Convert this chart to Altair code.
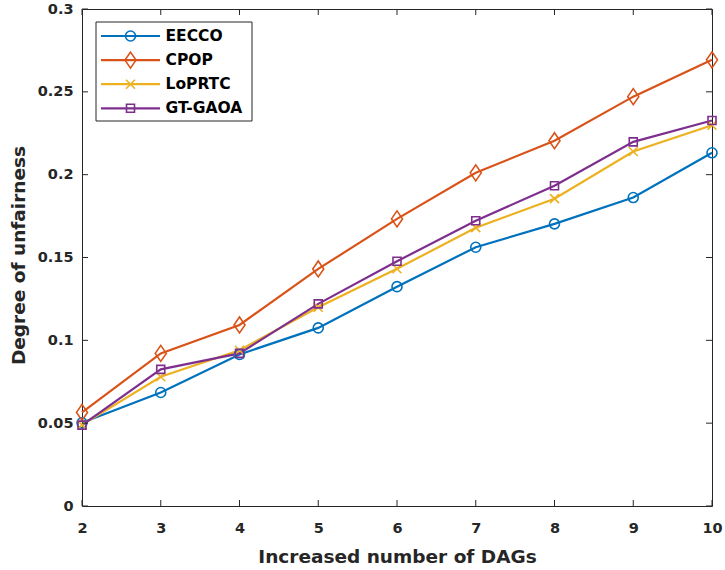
import altair as alt
import pandas as pd

# ---- data ----
x_vals = [2, 3, 4, 5, 6, 7, 8, 9, 10]
series_names = ["EECCO", "CPOP", "LoPRTC", "GT-GAOA"]
eecco = [0.0502, 0.0685, 0.0915, 0.1075, 0.1324, 0.1562, 0.1703, 0.1862, 0.2132]
cpop = [0.0565, 0.0921, 0.1093, 0.1431, 0.1733, 0.2011, 0.2205, 0.2471, 0.2693]
loprtc = [0.0490, 0.0780, 0.0940, 0.1200, 0.1432, 0.1680, 0.1855, 0.2140, 0.2298]
gtgaoa = [0.0488, 0.0825, 0.0921, 0.1220, 0.1477, 0.1722, 0.1933, 0.2198, 0.2327]
x_ticks = [2, 3, 4, 5, 6, 7, 8, 9, 10]
y_ticks = [0, 0.05, 0.1, 0.15, 0.2, 0.25, 0.3]

colors = ["#0072BD", "#D95319", "#EDB120", "#7E2F8E"]
shapes = [
    "circle",
    "M0,-1.6L1.1,0L0,1.6L-1.1,0Z",
    "M-0.9,-0.9L0.9,0.9M-0.9,0.9L0.9,-0.9",
    "M-0.8,-0.8L0.8,-0.8L0.8,0.8L-0.8,0.8Z",
]

W, H = 630, 497
FONT = "DejaVu Sans"
TXT = "#262626"

rows = []
for name, vals in zip(series_names, [eecco, cpop, loprtc, gtgaoa]):
    for xv, yv in zip(x_vals, vals):
        rows.append({"x": xv, "value": yv, "series": name})
df = pd.DataFrame(rows)

xscale = alt.Scale(domain=[2, 10], nice=False)
yscale = alt.Scale(domain=[0, 0.3], nice=False)
xaxis = alt.Axis(values=x_ticks, title="Increased number of DAGs", ticks=False, domain=False,
                 grid=False, labelPadding=15, labelFlush=False, labelFont=FONT, labelFontSize=14.5,
                 labelFontWeight="bold", labelColor=TXT, titleFont=FONT, titleFontSize=18.5,
                 titleFontWeight="bold", titleColor=TXT, titleY=56, titleBaseline="alphabetic")
yaxis = alt.Axis(values=y_ticks, title="Degree of unfairness", format="~g", ticks=False,
                 domain=False, grid=False, labelPadding=9, labelFlush=False, labelFont=FONT,
                 labelFontSize=14.5, labelFontWeight="bold", labelColor=TXT, titleFont=FONT,
                 titleFontSize=18.5, titleFontWeight="bold", titleColor=TXT, titleX=-64,
                 titleY=246, titleBaseline="middle", titleAlign="center", titleAngle=-90)

color = alt.Color("series:N", scale=alt.Scale(domain=series_names, range=colors), legend=None)
shape = alt.Shape("series:N", scale=alt.Scale(domain=series_names, range=shapes), legend=None)

X = lambda f: alt.X(f, scale=xscale, axis=xaxis)
Y = lambda f: alt.Y(f, scale=yscale, axis=yaxis)

lines = alt.Chart(df).mark_line(strokeWidth=2.2).encode(
    x=X("x:Q"), y=Y("value:Q"), color=color, detail="series:N")
points = alt.Chart(df).mark_point(filled=False, size=100, strokeWidth=1.6, opacity=1).encode(
    x=X("x:Q"), y=Y("value:Q"), color=color, shape=shape)

# inward ticks on all four sides
xt = pd.DataFrame({"t": x_ticks})
yt = pd.DataFrame({"t": y_ticks})
TL = 6
tick_b = alt.Chart(xt).mark_rule(color=TXT, strokeWidth=1).encode(
    x=X("t:Q"), y=alt.value(H), y2=alt.value(H - TL))
tick_t = alt.Chart(xt).mark_rule(color=TXT, strokeWidth=1).encode(
    x=X("t:Q"), y=alt.value(0), y2=alt.value(TL))
tick_l = alt.Chart(yt).mark_rule(color=TXT, strokeWidth=1).encode(
    y=Y("t:Q"), x=alt.value(0), x2=alt.value(TL))
tick_r = alt.Chart(yt).mark_rule(color=TXT, strokeWidth=1).encode(
    y=Y("t:Q"), x=alt.value(W), x2=alt.value(W - TL))

# manual legend (box, line samples, markers, labels)
box = alt.Chart(pd.DataFrame({"k": [0]})).mark_rect(
    fill="white", stroke=TXT, strokeWidth=1).encode(
    x=alt.value(14), x2=alt.value(170), y=alt.value(13), y2=alt.value(112))
leg_rows = []
for i, name in enumerate(series_names):
    py = 27 + 24.1 * i
    leg_rows.append({"series": name, "ly": 0.3 * (1 - py / H)})
ldf = pd.DataFrame(leg_rows)
leg_line = alt.Chart(ldf).mark_rule(strokeWidth=2.2).encode(
    x=alt.value(19), x2=alt.value(78), y=Y("ly:Q"), color=color)
leg_pt = alt.Chart(ldf).mark_point(filled=False, size=100, strokeWidth=1.6, opacity=1).encode(
    x=alt.value(48.5), y=Y("ly:Q"), color=color, shape=shape)
leg_txt = alt.Chart(ldf).mark_text(align="left", baseline="middle", font=FONT, fontSize=15.5,
                                    fontWeight="bold", color="black").encode(
    x=alt.value(83.5), y=Y("ly:Q"), text="series:N")

chart = alt.layer(
    lines, points, tick_b, tick_t, tick_l, tick_r, box, leg_line, leg_pt, leg_txt
).properties(
    width=W, height=H,
    autosize=alt.AutoSizeParams(type="none"),
    padding={"left": 82, "top": 9, "right": 13, "bottom": 64},
    background="white",
).configure_view(stroke=TXT, strokeWidth=1)

chart.save("out.html", embed_options={"renderer": "svg", "actions": False})
